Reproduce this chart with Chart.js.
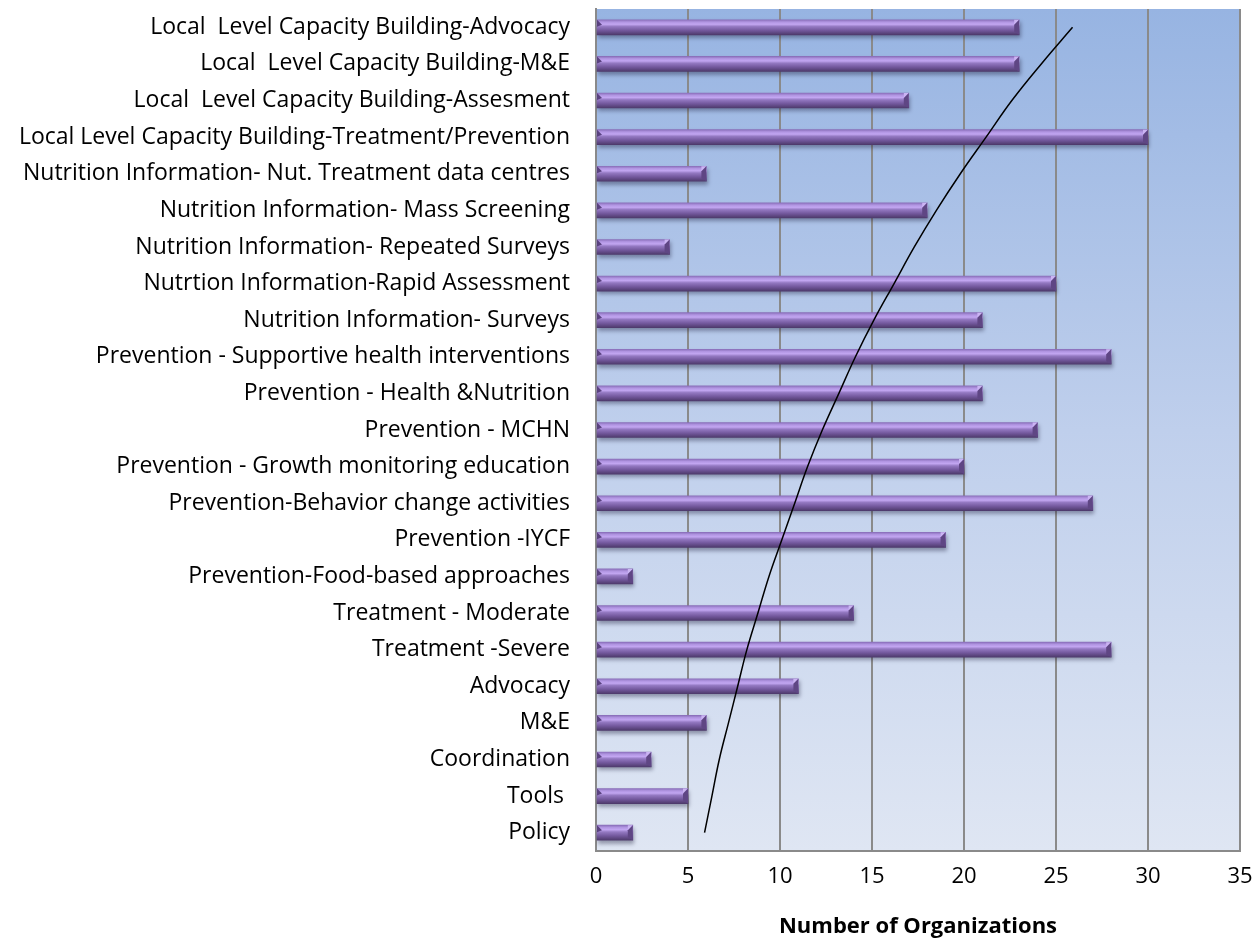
<!DOCTYPE html>
<html>
<head>
<meta charset="utf-8">
<script src="https://cdn.jsdelivr.net/npm/chart.js@4.4.1/dist/chart.umd.min.js"></script>
<style>
  html, body { margin: 0; padding: 0; background: #fff; }
  #wrap { width: 1260px; height: 940px; }
</style>
</head>
<body>
<div id="wrap"><canvas id="orgChart" width="1260" height="940"></canvas></div>
<script>
// activity areas, listed top to bottom as they appear on the axis
const categories = [
    'Local  Level Capacity Building-Advocacy',
    'Local  Level Capacity Building-M&E',
    'Local  Level Capacity Building-Assesment',
    'Local Level Capacity Building-Treatment/Prevention',
    'Nutrition Information- Nut. Treatment data centres',
    'Nutrition Information- Mass Screening',
    'Nutrition Information- Repeated Surveys',
    'Nutrtion Information-Rapid Assessment',
    'Nutrition Information- Surveys',
    'Prevention - Supportive health interventions',
    'Prevention - Health &Nutrition',
    'Prevention - MCHN',
    'Prevention - Growth monitoring education',
    'Prevention-Behavior change activities',
    'Prevention -IYCF',
    'Prevention-Food-based approaches',
    'Treatment - Moderate',
    'Treatment -Severe',
    'Advocacy',
    'M&E',
    'Coordination',
    'Tools ',
    'Policy'
];

// number of organizations working in each area
const orgCounts = [23, 23, 17, 30, 6, 18, 4, 25, 21, 28, 21, 24, 20, 27, 19, 2, 14, 28, 11, 6, 3, 5, 2];

// trend curve drawn over the bars
const trendValues = [25.9, 24.2, 22.6, 21.2, 19.8, 18.5, 17.3, 16.2, 15.1, 14.1, 13.2, 12.3,
                     11.5, 10.8, 10.1, 9.4, 8.8, 8.2, 7.7, 7.2, 6.7, 6.3, 5.9];

const xTicks = [0, 5, 10, 15, 20, 25, 30, 35];

const FONT = '"Open Sans", Lato, sans-serif';
const BAR_H = 15;

// blue gradient behind the plot, darker at the top
const plotBackground = {
    id: 'plotBackground',
    beforeDraw(chart) {
        const { ctx, chartArea: a } = chart;
        if (!a) return;
        const g = ctx.createLinearGradient(0, a.top, 0, a.bottom);
        g.addColorStop(0, '#97b4e2');
        g.addColorStop(0.5, '#bfcfec');
        g.addColorStop(1, '#dfe6f3');
        ctx.save();
        ctx.fillStyle = g;
        ctx.fillRect(a.left, a.top, a.right - a.left, a.bottom - a.top);
        ctx.restore();
    }
};

// soft drop shadow under the bars, then bevelled ends on top of them
const barBevel = {
    id: 'barBevel',
    beforeDatasetDraw(chart, args) {
        if (args.index !== 0) return;
        const ctx = chart.ctx;
        ctx.save();
        ctx.shadowColor = 'rgba(30, 30, 60, 0.4)';
        ctx.shadowBlur = 4;
        ctx.shadowOffsetX = 1;
        ctx.shadowOffsetY = 3;
    },
    afterDatasetDraw(chart, args) {
        if (args.index !== 0) return;
        const ctx = chart.ctx;
        ctx.restore();
        const bev = 5;
        args.meta.data.forEach(bar => {
            const l = bar.base, r = bar.x;
            const t = bar.y - BAR_H / 2, b = bar.y + BAR_H / 2;
            ctx.save();
            // right end: light upper facet, dark lower facet
            ctx.fillStyle = '#cbb4f3';
            ctx.beginPath();
            ctx.moveTo(r - bev, t + bev);
            ctx.lineTo(r - bev, t);
            ctx.lineTo(r, t);
            ctx.closePath();
            ctx.fill();
            ctx.fillStyle = '#5f4684';
            ctx.beginPath();
            ctx.moveTo(r - bev, t + bev);
            ctx.lineTo(r, t);
            ctx.lineTo(r, b);
            ctx.lineTo(r - bev, b - 3);
            ctx.closePath();
            ctx.fill();
            // left end: small dark corner
            ctx.fillStyle = '#5a4280';
            ctx.beginPath();
            ctx.moveTo(l, t);
            ctx.lineTo(l + bev, t + bev);
            ctx.lineTo(l, t + bev + 2);
            ctx.closePath();
            ctx.fill();
            ctx.restore();
        });
    }
};

function barFill(context) {
    const chart = context.chart;
    const yScale = chart.scales.y;
    if (!yScale || context.dataIndex === undefined) return '#8064a2';
    const cy = yScale.getPixelForValue(context.dataIndex);
    if (!Number.isFinite(cy)) return '#8064a2';
    const g = chart.ctx.createLinearGradient(0, cy - BAR_H / 2, 0, cy + BAR_H / 2);
    g.addColorStop(0, '#8a6fba');
    g.addColorStop(0.15, '#b195e2');
    g.addColorStop(0.3, '#c2a6f1');
    g.addColorStop(0.45, '#9479c2');
    g.addColorStop(0.7, '#74599e');
    g.addColorStop(1, '#4e3a6c');
    return g;
}

new Chart(document.getElementById('orgChart'), {
    data: {
        labels: categories,
        datasets: [
            {
                type: 'bar',
                data: orgCounts,
                backgroundColor: barFill,
                borderWidth: 0,
                barThickness: BAR_H,
                order: 1
            },
            {
                type: 'line',
                data: trendValues,
                borderColor: '#000',
                borderWidth: 1.5,
                pointRadius: 0,
                tension: 0.4,
                fill: false,
                order: 0
            }
        ]
    },
    options: {
        indexAxis: 'y',
        responsive: false,
        animation: false,
        layout: { padding: { left: 0, right: 20, top: 9, bottom: 0 } },
        plugins: {
            legend: { display: false },
            tooltip: { enabled: false }
        },
        scales: {
            x: {
                min: 0,
                max: 35,
                afterBuildTicks(scale) {
                    scale.ticks = xTicks.map(v => ({ value: v }));
                },
                afterFit(scale) {
                    scale.height = 89;
                    scale.paddingLeft = 0;
                    scale.paddingRight = 0;
                },
                grid: { color: '#8a8a8a', lineWidth: 2, drawTicks: false },
                border: { display: true, color: '#8a8a8a', width: 2 },
                ticks: {
                    color: '#000',
                    padding: 13,
                    font: { family: FONT, size: 22 }
                },
                title: {
                    display: true,
                    text: 'Number of Organizations',
                    color: '#000',
                    padding: { top: 8, bottom: 0 },
                    font: { family: FONT, size: 22, weight: 'bold' }
                }
            },
            y: {
                afterFit(scale) {
                    scale.width = 596;
                    scale.paddingTop = 0;
                    scale.paddingBottom = 0;
                },
                grid: { display: false, drawTicks: false },
                border: { display: true, color: '#8a8a8a', width: 2 },
                ticks: {
                    color: '#000',
                    padding: 26,
                    autoSkip: false,
                    font: { family: FONT, size: 23 }
                }
            }
        }
    },
    plugins: [plotBackground, barBevel]
});
</script>
</body>
</html>
